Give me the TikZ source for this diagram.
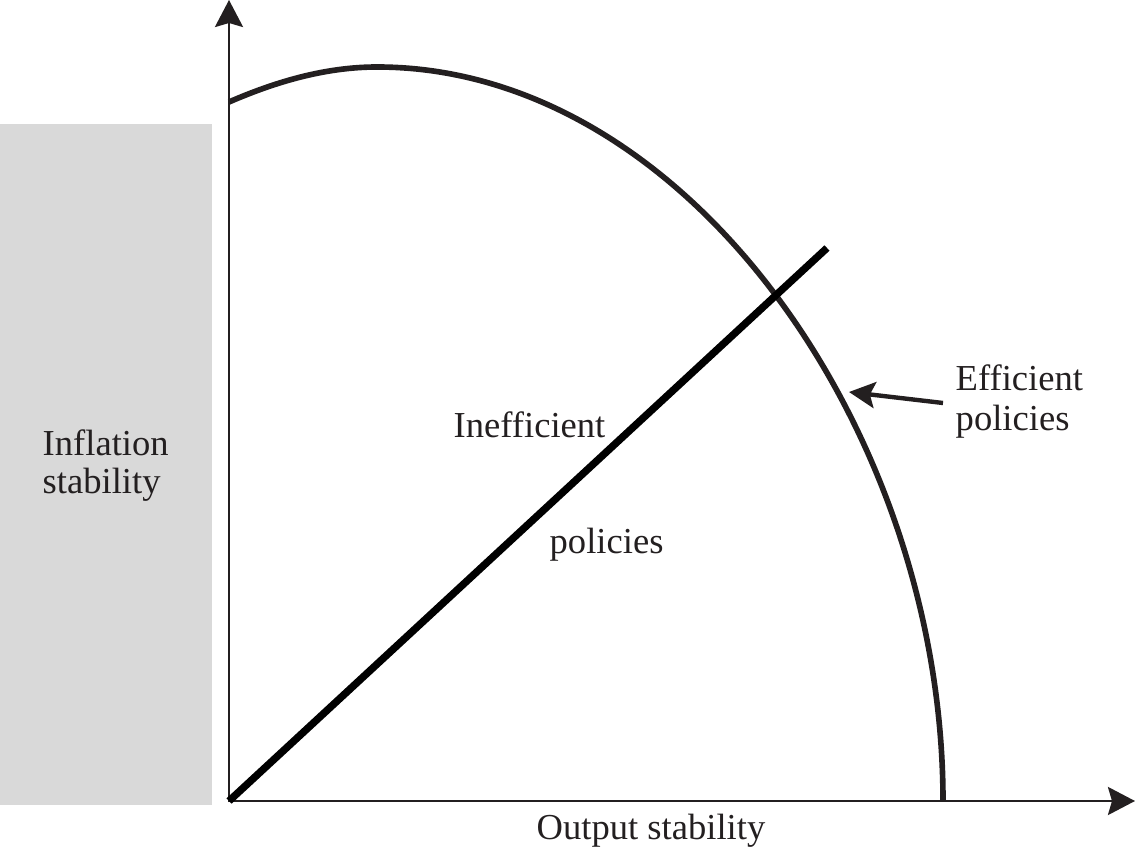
\documentclass[tikz,border=0pt]{standalone}
\usepackage{fontspec}
\setmainfont{Liberation Serif}
\usetikzlibrary{arrows.meta}
\definecolor{ink}{RGB}{35,31,32}
\definecolor{panel}{RGB}{217,217,217}
\begin{document}
\begin{tikzpicture}[x=0.01cm,y=-0.01cm,
  lbl/.style={font=\fontsize{10.4}{11}\selectfont, text=ink, inner sep=0pt, anchor=base west},
  axisline/.style={line width=0.75pt, draw=ink, -{Stealth[length=0.27cm,width=0.28cm,inset=0.04cm]}},
  frontier/.style={draw=ink, line width=1.6pt},
  diag/.style={draw=black, line width=2.1pt},
  pointer/.style={draw=ink, line width=1.25pt, -{Stealth[length=0.26cm,width=0.26cm,inset=0.05cm]}}]
\useasboundingbox (0,0) rectangle (1136,861);
\fill[panel] (0,124) rectangle (212,805);
% axes
\coordinate (O) at (229,801);
\coordinate (Ybot) at (229,802);
\coordinate (Xleft) at (228,801);
\coordinate (Ytip) at (229,0);
\coordinate (Xtip) at (1135,801);
\draw[axisline] (Ybot) -- (Ytip);
\draw[axisline] (Xleft) -- (Xtip);
% frontier
\coordinate (C0) at (229,102);
\coordinate (Cpk) at (377,67);
\coordinate (C1) at (943,801);
\draw[frontier] (C0) .. controls (275,82) and (325,67) .. (Cpk)
  .. controls (688,67) and (943,434) .. (C1);
% diagonal
\coordinate (Lend) at (827,248);
\draw[diag] (O) -- (Lend);
% pointer
\coordinate (Etail) at (943,403);
\coordinate (Etip) at (849,392);
\draw[pointer] (Etail) -- (Etip);
% labels
\node[lbl] (infl1) at (42,456) {Inflation};
\node[lbl] (infl2) at (42,494) {stability};
\node[lbl] (ineff) at (453,438) {Inefficient};
\node[lbl] (pol) at (549,554) {policies};
\node[lbl] (eff1) at (955,391) {Efficient};
\node[lbl] (eff2) at (955,431) {policies};
\node[lbl, anchor=base] (outp) at (651,839) {Output stability};
\end{tikzpicture}
\end{document}
